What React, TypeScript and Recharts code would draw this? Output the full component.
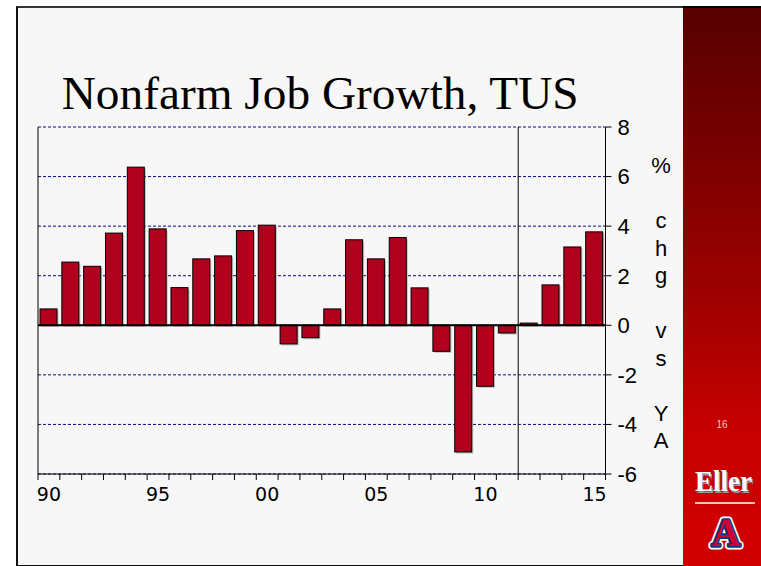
import React from "react";
import {
  BarChart,
  Bar,
  XAxis,
  YAxis,
  CartesianGrid,
  ReferenceLine,
} from "recharts";

// year labels (two digits), 1990 .. 2015
const years = [
  "90", "91", "92", "93", "94", "95", "96", "97", "98", "99",
  "00", "01", "02", "03", "04", "05", "06", "07", "08", "09",
  "10", "11", "12", "13", "14", "15",
];

// % chg vs year ago
const growth = [
  0.66, 2.55, 2.38, 3.72, 6.38, 3.89, 1.52, 2.68, 2.8, 3.82,
  4.04, -0.75, -0.5, 0.66, 3.45, 2.68, 3.54, 1.51, -1.05, -5.11,
  -2.46, -0.31, 0.09, 1.63, 3.16, 3.77,
];

const labelledYears = ["90", "95", "00", "05", "10", "15"];
const yTicks = [-6, -4, -2, 0, 2, 4, 6, 8];
const forecastFrom = "12";
const unitLines = ["%", "", "c", "h", "g", "", "v", "s", "", "Y", "A"];

const data = years.map((year, i) => ({ year, value: growth[i] }));

// plot box
const W = 761;
const H = 566;
const PLOT_LEFT = 38;
const PLOT_RIGHT = 605.5;
const PLOT_TOP = 127;
const PLOT_BOTTOM = 474;
const BAND = (PLOT_RIGHT - PLOT_LEFT) / years.length;

function ShadowBar(props: any) {
  const { x, y, width, height } = props;
  const top = Math.min(y, y + height);
  const h = Math.abs(height);
  return (
    <g>
      <rect x={x + 1.5} y={top + 1.5} width={width} height={h} fill="#8a8a8a" opacity={0.55} />
      <rect x={x} y={top} width={width} height={h} fill="#b0001e" stroke="#000" strokeWidth={1} />
    </g>
  );
}

// tick marks sit on the year boundaries, labels on every 5th year
function YearTick(props: any) {
  const { x, payload, index } = props;
  const left = x - BAND / 2;
  const right = x + BAND / 2;
  return (
    <g>
      <line x1={left} x2={left} y1={PLOT_BOTTOM} y2={PLOT_BOTTOM + 6} stroke="#000" />
      {index === years.length - 1 && (
        <line x1={right} x2={right} y1={PLOT_BOTTOM} y2={PLOT_BOTTOM + 6} stroke="#000" />
      )}
      {labelledYears.includes(payload.value) && (
        <text
          x={x}
          y={PLOT_BOTTOM + 26.5}
          textAnchor="middle"
          fontSize={19}
          fontFamily="DejaVu Sans"
          fill="#000"
        >
          {payload.value}
        </text>
      )}
    </g>
  );
}

export default function App() {
  return (
    <div style={{ position: "absolute", left: 0, top: 0, width: W, height: H, background: "#fff", overflow: "hidden" }}>
      {/* slide frame */}
      <div
        style={{
          position: "absolute",
          left: 16,
          top: 6,
          width: 745,
          height: 557,
          background: "#f7f7f7",
          borderTop: "2px solid #333",
          borderLeft: "2px solid #111",
          borderBottom: "2px solid #111",
        }}
      />
      <div
        style={{
          position: "absolute",
          left: 683,
          top: 8,
          width: 78,
          height: 558,
          background: "linear-gradient(#560000, #9c0000 50%, #c60000 75%, #d20000)",
        }}
      />
      <div style={{ position: "absolute", left: 683, top: 6, width: 78, height: 2, background: "#000" }} />

      <div style={{ position: "absolute", left: 0, top: 0 }}>
        <BarChart
          width={W}
          height={H}
          data={data}
          margin={{
            top: PLOT_TOP,
            right: W - PLOT_RIGHT - 60,
            bottom: H - PLOT_BOTTOM - 30,
            left: PLOT_LEFT - 6,
          }}
        >
          <CartesianGrid
            horizontal
            vertical={false}
            yAxisId="r"
            stroke="#0a0a88"
            strokeDasharray="3 2"
          />
          <XAxis
            dataKey="year"
            height={30}
            interval={0}
            tickLine={false}
            axisLine={{ stroke: "#000" }}
            tick={<YearTick />}
          />
          <YAxis
            yAxisId="l"
            orientation="left"
            width={6}
            domain={[-6, 8]}
            ticks={yTicks}
            interval={0}
            tickSize={6}
            axisLine={{ stroke: "#000" }}
            tickLine={{ stroke: "#000" }}
            tickFormatter={() => ""}
          />
          <YAxis
            yAxisId="r"
            orientation="right"
            width={60}
            domain={[-6, 8]}
            ticks={yTicks}
            interval={0}
            tickSize={6}
            tickMargin={6}
            axisLine={{ stroke: "#000" }}
            tickLine={{ stroke: "#000" }}
            tick={{ fontSize: 22, fill: "#000", fontFamily: "Liberation Sans", textAnchor: "start" }}
          />
          <Bar
            dataKey="value"
            yAxisId="r"
            barSize={17}
            shape={ShadowBar}
            isAnimationActive={false}
          />
          <ReferenceLine y={0} yAxisId="r" stroke="#000" strokeWidth={2} />
          <ReferenceLine x={forecastFrom} yAxisId="r" position="start" stroke="#000" strokeWidth={1} />
        </BarChart>
      </div>

      <svg
        width={W}
        height={H}
        style={{ position: "absolute", left: 0, top: 0, pointerEvents: "none" }}
      >
        <text
          x={61.7}
          y={109.3}
          fontFamily="Liberation Serif"
          fontSize={46}
          textLength={517}
          lengthAdjust="spacingAndGlyphs"
          fill="#000"
        >
          Nonfarm Job Growth, TUS
        </text>

        {unitLines.map((ch, i) =>
          ch ? (
            <text
              key={i}
              x={661}
              y={173.3 + i * 27.5}
              textAnchor="middle"
              fontFamily="Liberation Sans"
              fontSize={22}
              fill="#000"
            >
              {ch}
            </text>
          ) : null
        )}

        <text x={722} y={427.5} textAnchor="middle" fontFamily="Liberation Sans" fontSize={10} fill="#f3c6c6">
          16
        </text>

        <text x={696.5} y={492.5} fontFamily="Liberation Serif" fontWeight="bold" fontSize={29} textLength={57} lengthAdjust="spacingAndGlyphs" fill="#8e95aa">
          Eller
        </text>
        <text x={695} y={491} fontFamily="Liberation Serif" fontWeight="bold" fontSize={29} textLength={57} lengthAdjust="spacingAndGlyphs" fill="#fff">
          Eller
        </text>
        <line x1={695} x2={755} y1={503} y2={503} stroke="#fff" strokeWidth={1.5} />

        <text x={726} y={546} textAnchor="middle" fontFamily="Liberation Serif" fontWeight="bold" fontSize={40} fill="#fff" stroke="#fff" strokeWidth={7} strokeLinejoin="round">
          A
        </text>
        <text x={726} y={546} textAnchor="middle" fontFamily="Liberation Serif" fontWeight="bold" fontSize={40} fill="#cc0033" stroke="#0c3a80" strokeWidth={3.5} strokeLinejoin="round" paintOrder="stroke">
          A
        </text>
      </svg>
    </div>
  );
}
